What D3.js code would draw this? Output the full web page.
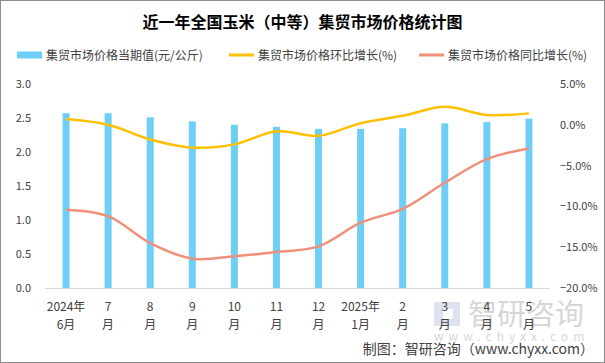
<!DOCTYPE html>
<html>
<head>
<meta charset="utf-8">
<script src="https://cdn.jsdelivr.net/npm/d3@7"></script>
<style>
  body { margin: 0; background: #fff; }
  text { font-family: "Noto Sans CJK SC", "Microsoft YaHei", sans-serif; }
</style>
</head>
<body>
<div id="chart"></div>
<script>
// chart data
var months = ["2024年\n6月", "7\n月", "8\n月", "9\n月", "10\n月", "11\n月", "12\n月",
              "2025年\n1月", "2\n月", "3\n月", "4\n月", "5\n月"];
var price = [2.57, 2.57, 2.51, 2.45, 2.40, 2.37, 2.34, 2.34, 2.35, 2.42, 2.44, 2.49];
var mom = [0.7, 0.0, -1.8, -2.8, -2.4, -0.8, -1.35, 0.2, 1.1, 2.2, 1.2, 1.4];
var yoy = [-10.4, -11.2, -14.5, -16.4, -16.1, -15.6, -14.9, -12.0, -10.3, -7.1, -4.2, -2.9];
var leftTicks = [0, 0.5, 1.0, 1.5, 2.0, 2.5, 3.0];
var rightTicks = [-20, -15, -10, -5, 0, 5];
var seriesNames = ["集贸市场价格当期值(元/公斤)", "集贸市场价格环比增长(%)", "集贸市场价格同比增长(%)"];

var W = 605, H = 363;
var plot = {left: 45, right: 550, top: 84, bottom: 288};

var svg = d3.select("#chart").append("svg")
    .attr("width", W).attr("height", H);

svg.append("rect")
    .attr("x", 0.5).attr("y", 0.5)
    .attr("width", W - 1).attr("height", H - 1)
    .attr("fill", "#fff").attr("stroke", "#8c8c8c");

// title
svg.append("text")
    .attr("x", W / 2).attr("y", 28)
    .attr("text-anchor", "middle")
    .style("font-size", "16px").style("font-weight", "bold")
    .text("近一年全国玉米（中等）集贸市场价格统计图");

// legend
var legendColors = ["#6dcff6", "#ffc000", "#f0907a"];
var legendX = [17, 229, 419];
seriesNames.forEach(function(name, i) {
  var g = svg.append("g").attr("transform", "translate(" + legendX[i] + ",55)");
  g.append("rect")
      .attr("x", 0).attr("y", i == 0 ? -3.5 : -1.5)
      .attr("width", 25).attr("height", i == 0 ? 7 : 3)
      .attr("fill", legendColors[i]);
  g.append("text")
      .attr("x", 29).attr("y", 4.5)
      .style("font-size", "12px").attr("fill", "#404040")
      .text(name);
});

// scales
var x = d3.scaleBand()
    .domain(d3.range(months.length))
    .range([plot.left, plot.right]);
var yL = d3.scaleLinear().domain([0, 3]).range([plot.bottom, plot.top]);
var yR = d3.scaleLinear().domain([-20, 5]).range([plot.bottom, plot.top]);

// left axis labels
svg.append("g").selectAll("text")
  .data(leftTicks).enter().append("text")
    .attr("x", 31).attr("y", function(d) { return yL(d) + 4; })
    .attr("text-anchor", "end")
    .style("font-size", "11px").attr("fill", "#404040")
    .text(function(d) { return d3.format(".1f")(d); });

// right axis labels
svg.append("g").selectAll("text")
  .data(rightTicks).enter().append("text")
    .attr("x", 560).attr("y", function(d) { return yR(d) + 4; })
    .style("font-size", "11px").attr("fill", "#404040")
    .text(function(d) { return d3.format(".1f")(d) + "%"; });

// bars
svg.append("g").selectAll("rect")
  .data(price).enter().append("rect")
    .attr("x", function(d, i) { return x(i) + x.bandwidth() / 2 - 3.5; })
    .attr("y", function(d) { return yL(d); })
    .attr("width", 7)
    .attr("height", function(d) { return yL(0) - yL(d); })
    .attr("fill", "#6dcff6");

// x axis line
svg.append("line")
    .attr("x1", plot.left).attr("x2", plot.right)
    .attr("y1", plot.bottom + 0.5).attr("y2", plot.bottom + 0.5)
    .attr("stroke", "#d9d9d9");

// lines
var line = function(ys) {
  return d3.line()
      .x(function(d, i) { return x(i) + x.bandwidth() / 2; })
      .y(function(d) { return yR(d); })
      .curve(d3.curveCatmullRom.alpha(0.5))(ys);
};
svg.append("path")
    .attr("d", line(mom))
    .attr("fill", "none").attr("stroke", "#ffc000").attr("stroke-width", 2.5);
svg.append("path")
    .attr("d", line(yoy))
    .attr("fill", "none").attr("stroke", "#f0907a").attr("stroke-width", 2.5);

// watermark (sits behind the month labels, as in the source image)
var wm = svg.append("g").attr("opacity", 0.3);
wm.append("rect").attr("x", 434).attr("y", 302).attr("width", 26).attr("height", 24).attr("fill", "#8fa6c8");
wm.append("rect").attr("x", 443).attr("y", 309).attr("width", 10).attr("height", 10).attr("fill", "#fff");
wm.append("text")
    .attr("x", 468).attr("y", 325)
    .style("font-size", "29px").attr("fill", "#7a7a7a")
    .text("智研咨询");
wm.append("text")
    .attr("x", 434).attr("y", 341)
    .style("font-size", "12px").style("letter-spacing", "5px").attr("fill", "#7a7a7a")
    .text("www.chyxx.com");

// x labels
var xl = svg.append("g").selectAll("text")
  .data(months).enter().append("text")
    .attr("text-anchor", "middle")
    .style("font-size", "12px").attr("fill", "#404040");
xl.each(function(d, i) {
  var t = d3.select(this);
  d.split("\n").forEach(function(line, j) {
    t.append("tspan")
        .attr("x", x(i) + x.bandwidth() / 2)
        .attr("y", 311 + j * 18)
        .text(line);
  });
});

// credit
svg.append("text")
    .attr("x", 594).attr("y", 354)
    .attr("text-anchor", "end")
    .style("font-size", "14px").attr("fill", "#404040")
    .text("制图：智研咨询（www.chyxx.com）");
</script>
</body>
</html>
